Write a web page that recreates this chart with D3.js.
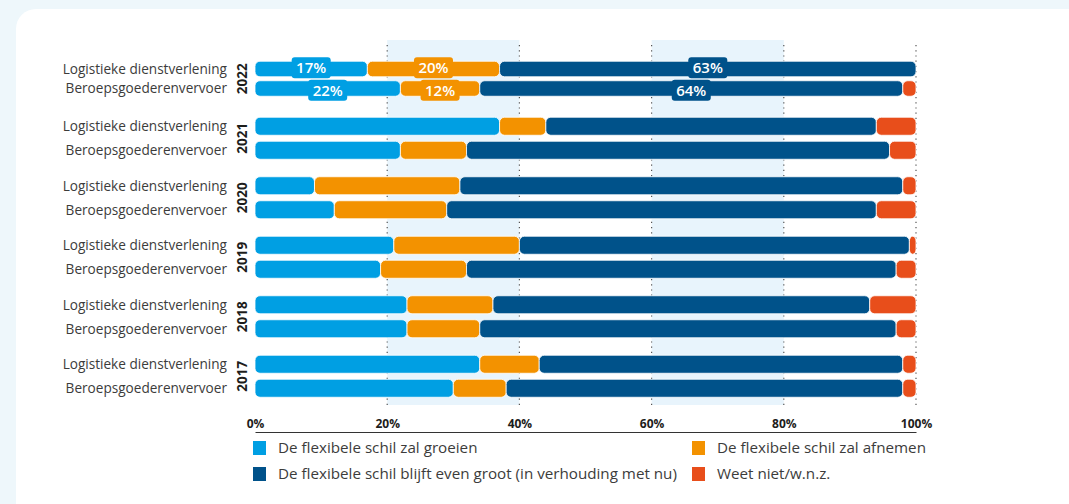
<!DOCTYPE html>
<html>
  <head>
    <meta charset="utf-8" />
    <title>Flexibele schil</title>
    <script src="https://d3js.org/d3.v7.min.js"></script>
    <style>

      body {
        margin: 0;
        background: #eef7fb;
        font-family: "Open Sans", "Noto Sans", sans-serif;
      }

    </style>
  </head>
  <body>

    <svg id="viz"></svg>

    <script>

      // data (percentages, top group first)
      var years = ["2022", "2021", "2020", "2019", "2018", "2017"];
      var sectors = ["Logistieke dienstverlening", "Beroepsgoederenvervoer"];
      var seriesNames = [
        "De flexibele schil zal groeien",
        "De flexibele schil zal afnemen",
        "De flexibele schil blijft even groot (in verhouding met nu)",
        "Weet niet/w.n.z."
      ];
      var colors = ["#009fe3", "#f39200", "#00528a", "#e84e1b"];

      // Logistieke dienstverlening
      var groeienLD = [17, 37, 9, 21, 23, 34];
      var afnemenLD = [20, 7, 22, 19, 13, 9];
      var gelijkLD = [63, 50, 67, 59, 57, 55];
      var weetNietLD = [0, 6, 2, 1, 7, 2];

      // Beroepsgoederenvervoer
      var groeienBG = [22, 22, 12, 19, 23, 30];
      var afnemenBG = [12, 10, 17, 13, 11, 8];
      var gelijkBG = [64, 64, 65, 65, 63, 60];
      var weetNietBG = [2, 4, 6, 3, 3, 2];

      var tickValues = [0, 20, 40, 60, 80, 100];
      var shadedBands = [[20, 40], [60, 80]];
      var labelYears = ["2022"];

      var width = 1069;
      var height = 504;

      var svg = d3.select("#viz")
        .attr("width", width)
        .attr("height", height);

      // white card
      svg.append("rect")
        .attr("x", 16)
        .attr("y", 9)
        .attr("width", width + 40)
        .attr("height", height + 40)
        .attr("rx", 20)
        .attr("fill", "#ffffff");

      var x = d3.scaleLinear()
        .domain([0, 100])
        .range([255, 916]);

      var y = d3.scaleBand()
        .domain(years)
        .range([49, 406]);

      var seriesLD = [groeienLD, afnemenLD, gelijkLD, weetNietLD];
      var seriesBG = [groeienBG, afnemenBG, gelijkBG, weetNietBG];

      // build rows: one per year and sector
      var rows = [];
      years.forEach(function(year, i) {
        [seriesLD, seriesBG].forEach(function(series, s) {
          var start = 0;
          var segs = series.map(function(arr, k) {
            var seg = {k: k, x0: start, x1: start + arr[i], v: arr[i]};
            start += arr[i];
            return seg;
          });
          rows.push({year: year, sector: sectors[s], s: s, segs: segs});
        });
      });

      function barHeight(year) {
        return year === "2022" ? 15.5 : 18;
      }
      function barGap(year) {
        return year === "2022" ? 4 : 6;
      }
      function barTop(d) {
        var c = y(d.year) + y.bandwidth() / 2;
        return d.s === 0 ? c - barGap(d.year) / 2 - barHeight(d.year) : c + barGap(d.year) / 2;
      }

      // shaded bands
      svg.selectAll(".band")
        .data(shadedBands)
        .enter().append("rect")
        .attr("class", "band")
        .attr("x", function(d) { return x(d[0]); })
        .attr("width", function(d) { return x(d[1]) - x(d[0]); })
        .attr("y", 40)
        .attr("height", 365)
        .attr("fill", "#e8f4fc");

      // dotted grid lines
      svg.selectAll(".grid")
        .data(tickValues.slice(1))
        .enter().append("line")
        .attr("class", "grid")
        .attr("x1", function(d) { return x(d); })
        .attr("x2", function(d) { return x(d); })
        .attr("y1", 45)
        .attr("y2", 405)
        .attr("stroke", "#555")
        .attr("stroke-width", 1.2)
        .attr("stroke-dasharray", "1.2,4");

      // bars
      var rowG = svg.selectAll(".row")
        .data(rows)
        .enter().append("g")
        .attr("class", "row");

      rowG.selectAll("rect")
        .data(function(d) {
          return d.segs.filter(function(s) { return s.v > 0; })
            .map(function(s) { return {row: d, seg: s}; });
        })
        .enter().append("rect")
        .attr("x", function(d) { return x(d.seg.x0); })
        .attr("width", function(d) { return x(d.seg.x1) - x(d.seg.x0); })
        .attr("y", function(d) { return barTop(d.row); })
        .attr("height", function(d) { return barHeight(d.row.year); })
        .attr("rx", 5)
        .attr("fill", function(d) { return colors[d.seg.k]; })
        .attr("stroke", "#ffffff")
        .attr("stroke-width", 0.8);

      // category labels
      rowG.append("text")
        .attr("x", 227)
        .attr("y", function(d) { return barTop(d) + barHeight(d.year) / 2; })
        .attr("dy", "0.35em")
        .attr("text-anchor", "end")
        .attr("font-size", 13.6)
        .attr("fill", "#3c3c3b")
        .text(function(d) { return d.sector; });

      // year labels
      svg.selectAll(".year")
        .data(years)
        .enter().append("text")
        .attr("class", "year")
        .attr("transform", function(d) {
          return "translate(247," + (y(d) + y.bandwidth() / 2) + ") rotate(-90)";
        })
        .attr("text-anchor", "middle")
        .attr("font-size", 13.5)
        .attr("font-weight", "bold")
        .attr("fill", "#1d1d1b")
        .text(function(d) { return d; });

      // value badges for the latest year
      var badges = [];
      rows.filter(function(r) { return labelYears.indexOf(r.year) >= 0; })
        .forEach(function(r) {
          r.segs.forEach(function(s) {
            if (s.v >= 5) badges.push({row: r, seg: s});
          });
        });

      var badgeG = svg.selectAll(".badge")
        .data(badges)
        .enter().append("g")
        .attr("class", "badge")
        .attr("transform", function(d) {
          var cx = x((d.seg.x0 + d.seg.x1) / 2);
          var cy = barTop(d.row) + barHeight(d.row.year) / 2 + (d.row.s === 0 ? -1.2 : 1.8);
          return "translate(" + cx + "," + cy + ")";
        });

      badgeG.append("rect")
        .attr("x", -19.5)
        .attr("y", -10.5)
        .attr("width", 39)
        .attr("height", 21)
        .attr("rx", 3)
        .attr("fill", function(d) { return colors[d.seg.k]; });

      badgeG.append("text")
        .attr("text-anchor", "middle")
        .attr("dy", "0.36em")
        .attr("font-size", 15)
        .attr("font-weight", 600)
        .attr("fill", "#ffffff")
        .text(function(d) { return d.seg.v + "%"; });

      // x axis, labels above the line
      var axis = d3.axisTop(x)
        .tickValues(tickValues)
        .tickFormat(function(d) { return d + "%"; })
        .tickSize(0)
        .tickPadding(4);

      var axisG = svg.append("g")
        .attr("transform", "translate(0,432)")
        .call(axis);

      axisG.select(".domain")
        .attr("stroke", "#333")
        .attr("stroke-width", 1.2);

      axisG.selectAll("text")
        .attr("font-family", "'Open Sans', 'Noto Sans', sans-serif")
        .attr("font-size", 12)
        .attr("font-weight", "bold")
        .attr("fill", "#1d1d1b");

      // legend, two columns
      var legendOrder = [0, 1, 2, 3];
      var colX = [253, 692];
      var rowY = [448, 474];

      var legend = svg.selectAll(".legend")
        .data(legendOrder)
        .enter().append("g")
        .attr("class", "legend")
        .attr("transform", function(d, i) {
          return "translate(" + colX[i % 2] + "," + rowY[Math.floor(i / 2)] + ")";
        });

      legend.append("rect")
        .attr("x", 0)
        .attr("y", -7)
        .attr("width", 13)
        .attr("height", 14)
        .attr("fill", function(d) { return colors[d]; });

      legend.append("text")
        .attr("x", 25)
        .attr("dy", "0.35em")
        .attr("font-size", 15.2)
        .attr("fill", "#3c3c3b")
        .text(function(d) { return seriesNames[d]; });

    </script>
  </body>
</html>
